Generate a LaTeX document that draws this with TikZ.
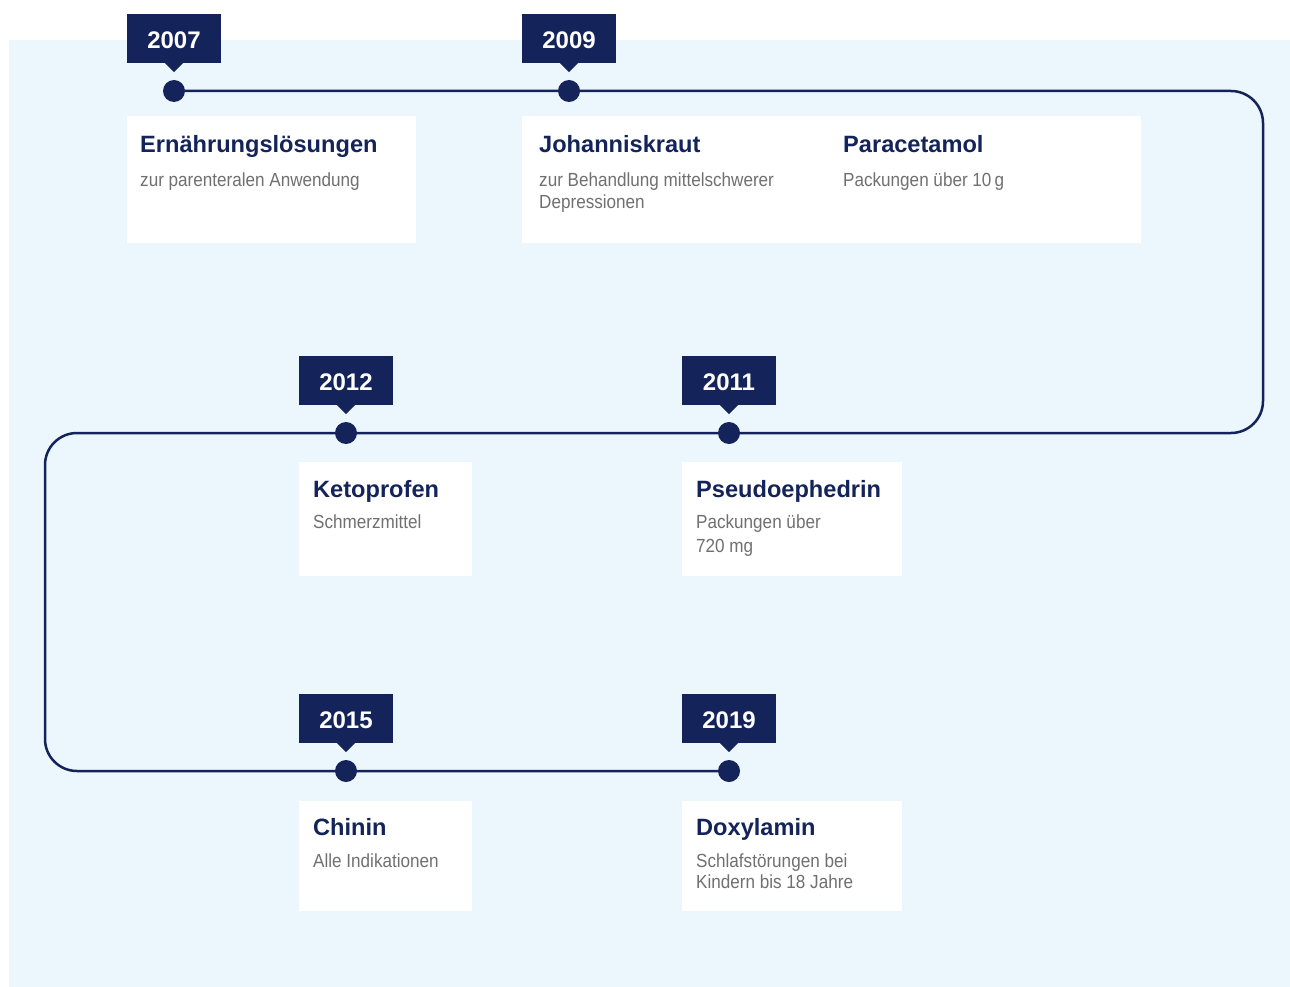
\documentclass[tikz,border=0pt]{standalone}
\usepackage{fontspec}
\setmainfont{Liberation Sans}
\newfontfamily\subfont[FakeStretch=0.9]{Liberation Sans}
\usetikzlibrary{calc}
\definecolor{navy}{RGB}{20,36,90}
\definecolor{paleblue}{RGB}{235,246,253}
\definecolor{subgray}{RGB}{112,112,112}
\pgfdeclarelayer{bg}
\pgfdeclarelayer{track}
\pgfsetlayers{bg,track,main}
\tikzset{
  yeartag/.style={fill=navy, text=white, inner sep=0, minimum width=94, minimum height=49,
    font=\fontsize{24}{28}\selectfont\bfseries},
  dot/.style={circle, fill=navy, inner sep=0, minimum size=22},
  card/.style={fill=white, inner sep=0, anchor=north west},
  cardtitle/.style={anchor=base west, inner sep=0, text=navy, font=\fontsize{23.6}{28}\selectfont\bfseries},
  cardsub/.style={anchor=base west, inner sep=0, text=subgray, font=\subfont\fontsize{19}{22}\selectfont},
  track/.style={draw=navy, line width=2.5, rounded corners=32}
}
% a year label box with its small pointer below
\newcommand{\yeartag}[3]{% name, x of dot, y of dot
  \node[yeartag] (#1) at (#2,#3-52.5) {\raisebox{-1.4pt}[17.2pt][0pt]{#1}};
  \fill[navy] ($(#1.south)+(-9,0)$) -- ($(#1.south)+(0,9)$) -- ($(#1.south)+(9,0)$) -- cycle;
}
\begin{document}
\begin{tikzpicture}[x=1pt,y=-1pt]
  \useasboundingbox (0,0) rectangle (1290,987);
  \begin{pgfonlayer}{bg}
    \fill[paleblue] (9,40) rectangle (1290,987);
  \end{pgfonlayer}

  % year tags
  \yeartag{2007}{174}{91}
  \yeartag{2009}{569}{91}
  \yeartag{2012}{346}{433}
  \yeartag{2011}{729}{433}
  \yeartag{2015}{346}{771}
  \yeartag{2019}{729}{771}

  % milestone dots
  \node[dot] (d2007) at (174,91) {};
  \node[dot] (d2009) at (569,91) {};
  \node[dot] (d2012) at (346,433) {};
  \node[dot] (d2011) at (729,433) {};
  \node[dot] (d2015) at (346,771) {};
  \node[dot] (d2019) at (729,771) {};

  % winding time track
  \coordinate (turnA) at (1263,91);
  \coordinate (turnB) at (1263,433);
  \coordinate (turnC) at (45,433);
  \coordinate (turnD) at (45,771);
  \begin{pgfonlayer}{track}
    \draw[track] (d2007.center) -- (turnA) -- (turnB) -- (turnC) -- (turnD) -- (d2019.center);
  \end{pgfonlayer}

  % cards
  \node[card, minimum width=289, minimum height=127] (c2007) at (127,116) {};
  \node[cardtitle] (t2007) at (140,153) {Ernährungslösungen};
  \node[cardsub] (s2007) at (140,187) {zur parenteralen Anwendung};

  \node[card, minimum width=619, minimum height=127] (c2009) at (522,116) {};
  \node[cardtitle] (t2009a) at (539,153) {Johanniskraut};
  \node[cardsub] (s2009a) at (539,187) {zur Behandlung mittelschwerer};
  \node[cardsub] (s2009b) at (539,208) {Depressionen};
  \node[cardtitle] (t2009b) at (843,153) {Paracetamol};
  \node[cardsub] (s2009c) at (843,187) {Packungen über 10\,g};

  \node[card, minimum width=173, minimum height=114] (c2012) at (299,462) {};
  \node[cardtitle] (t2012) at (313,497) {Ketoprofen};
  \node[cardsub] (s2012) at (313,528) {Schmerzmittel};

  \node[card, minimum width=220, minimum height=114] (c2011) at (682,462) {};
  \node[cardtitle] (t2011) at (696,497) {Pseudoephedrin};
  \node[cardsub] (s2011a) at (696,528) {Packungen über};
  \node[cardsub] (s2011b) at (696,552) {720 mg};

  \node[card, minimum width=173, minimum height=110] (c2015) at (299,801) {};
  \node[cardtitle] (t2015) at (313,835) {Chinin};
  \node[cardsub] (s2015) at (313,867) {Alle Indikationen};

  \node[card, minimum width=220, minimum height=110] (c2019) at (682,801) {};
  \node[cardtitle] (t2019) at (696,835) {Doxylamin};
  \node[cardsub] (s2019a) at (696,867) {Schlafstörungen bei};
  \node[cardsub] (s2019b) at (696,888) {Kindern bis 18 Jahre};
\end{tikzpicture}
\end{document}
